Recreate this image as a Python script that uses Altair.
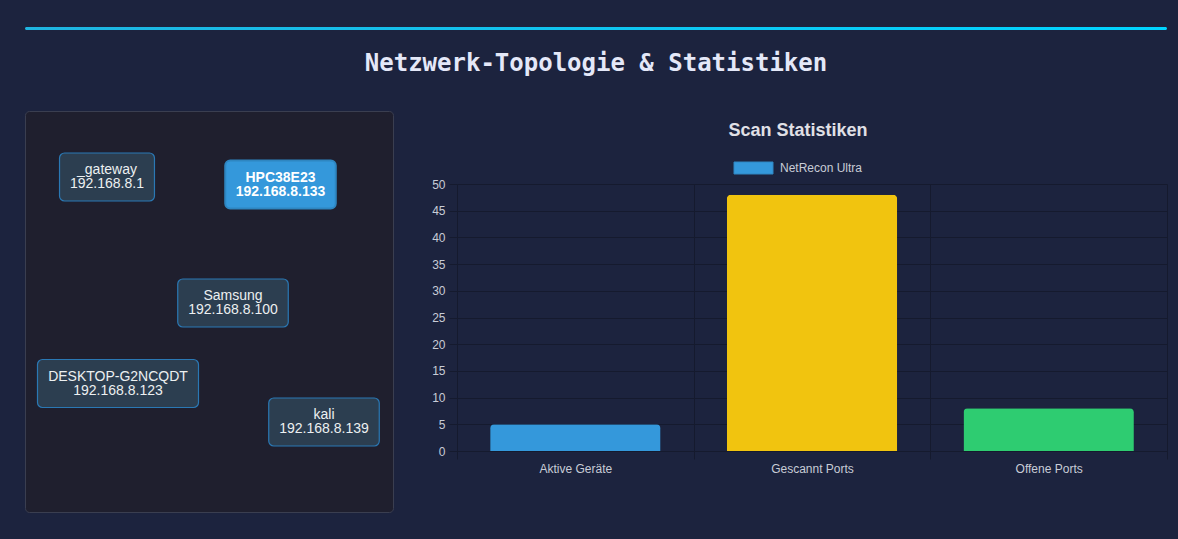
import altair as alt
import pandas as pd

# ---------------- data ----------------
categories = ["Aktive Geräte", "Gescannt Ports", "Offene Ports"]
counts = [5, 48, 8]
bar_colors = ["#3498db", "#f1c40f", "#2ecc71"]
y_ticks = [0, 5, 10, 15, 20, 25, 30, 35, 40, 45, 50]

node_names = ["_gateway", "HPC38E23", "Samsung", "DESKTOP-G2NCQDT", "kali"]
node_ips = ["192.168.8.1", "192.168.8.133", "192.168.8.100", "192.168.8.123", "192.168.8.139"]
# layout coordinates of the node centres inside the topology panel
node_x = [82, 255.5, 208, 93, 299]
node_y = [66, 73.5, 192, 272.5, 311]
active_node = "HPC38E23"

page_title = "Netzwerk-Topologie & Statistiken"
chart_title = "Scan Statistiken"
dataset_label = "NetRecon Ultra"

# ---------------- styles ----------------
BG = "#1c233e"
PANEL = "#1f1f2e"
PANEL_STROKE = "#3a3e50"
GRID = "#151a2e"
LABEL = "#c8ccd6"
FONT = "Liberation Sans"

# rough Arial metrics (per 1000 em) to size the node boxes around their text
W = {c: 556 for c in "0123456789_aegnu"}
W.update({".": 278, "-": 333, "t": 278, "w": 722, "y": 500, "k": 500, "l": 222,
          "i": 222, "m": 833, "s": 500, "S": 667, "D": 722, "E": 667, "K": 667,
          "T": 611, "O": 778, "P": 667, "G": 778, "N": 722, "C": 722, "Q": 778,
          "H": 722})


def text_w(s, size=14):
    return sum(W.get(c, 556) for c in s) * size / 1000.0


nodes = pd.DataFrame({"name": node_names, "ip": node_ips, "x": node_x, "y": node_y})
nodes["label"] = nodes["name"] + "\n" + nodes["ip"]
nodes["half"] = [(max(text_w(a), text_w(b)) + 21) / 2 for a, b in zip(node_names, node_ips)]
nodes["x1"] = nodes["x"] - nodes["half"]
nodes["x2"] = nodes["x"] + nodes["half"]
nodes["y1"] = nodes["y"] - 24
nodes["y2"] = nodes["y"] + 24
nodes["active"] = nodes["name"] == active_node

bars_df = pd.DataFrame({"cat": categories, "value": counts})
one = pd.DataFrame({"t": [page_title], "c": [chart_title], "l": [dataset_label]})

# plot area origin is at (457, 184) on the page
OX, OY = 457, 184

# ---------------- bar chart ----------------
bars = alt.Chart(bars_df).mark_bar(
    cornerRadiusTopLeft=4, cornerRadiusTopRight=4, width=alt.RelativeBandSize(0.72)
).encode(
    x=alt.X("cat:N", sort=categories,
            scale=alt.Scale(paddingInner=0, paddingOuter=0),
            axis=alt.Axis(title=None, orient="bottom", labelAngle=0, grid=True,
                          tickBand="extent", gridColor=GRID, domainColor=GRID,
                          gridOpacity=alt.condition("datum.index < 0", alt.value(0), alt.value(1)),
                          tickColor=GRID, tickSize=8, labelPadding=4,
                          labelColor=LABEL, labelFont=FONT, labelFontSize=12)),
    y=alt.Y("value:Q", scale=alt.Scale(domain=[0, 50], nice=False),
            axis=alt.Axis(title=None, orient="left", values=y_ticks, grid=True,
                          gridColor=GRID, domainColor=GRID, tickColor=GRID,
                          tickSize=8, labelPadding=4, labelColor=LABEL,
                          labelFont=FONT, labelFontSize=12)),
    color=alt.Color("cat:N", scale=alt.Scale(domain=categories, range=bar_colors), legend=None),
)

bars_title = alt.Chart(one).mark_text(font=FONT, fontSize=18, fontWeight="bold",
                                      color="#e0e0e6", align="center", baseline="middle").encode(
    x=alt.value(798 - OX), y=alt.value(131 - OY), text="c:N")

legend_box = alt.Chart(one).mark_rect(fill="#3498db", stroke="#2e86c1", strokeWidth=1).encode(
    x=alt.value(734 - OX), x2=alt.value(773 - OX), y=alt.value(162 - OY), y2=alt.value(174 - OY))

legend_text = alt.Chart(one).mark_text(font=FONT, fontSize=12, color=LABEL,
                                       align="left", baseline="middle").encode(
    x=alt.value(780 - OX), y=alt.value(168 - OY), text="l:N")

# ---------------- header ----------------
header_line = alt.Chart(one).mark_rect(
    cornerRadius=1.5,
    fill=alt.Gradient(gradient="linear", x1=0, x2=1, y1=0, y2=0,
                      stops=[alt.GradientStop(color="#1fb4e0", offset=0),
                             alt.GradientStop(color="#00d4ff", offset=1)])).encode(
    x=alt.value(25 - OX), x2=alt.value(1167 - OX), y=alt.value(27 - OY), y2=alt.value(30 - OY))

header_title = alt.Chart(one).mark_text(font="DejaVu Sans Mono", fontSize=24, fontWeight="bold",
                                        color="#e4e8f8", align="center", baseline="middle").encode(
    x=alt.value(596 - OX), y=alt.value(64 - OY), text="t:N")

# ---------------- topology panel ----------------
panel = alt.Chart(one).mark_rect(fill=PANEL, stroke=PANEL_STROKE, strokeWidth=1, cornerRadius=4).encode(
    x=alt.value(25.5 - OX), x2=alt.value(393.5 - OX), y=alt.value(111.5 - OY), y2=alt.value(512.5 - OY))

xs = alt.Scale(domain=[0, 368], range=[25 - OX, 393 - OX], nice=False, zero=False)
ys = alt.Scale(domain=[0, 401], range=[111 - OY, 512 - OY], nice=False, zero=False)

base = alt.Chart(nodes)
normal = base.transform_filter("!datum.active")
hot = base.transform_filter("datum.active")

boxes = normal.mark_rect(fill="#2c3e50", stroke="#2a78b4", strokeWidth=1.2, cornerRadius=5).encode(
    x=alt.X("x1:Q", scale=xs, axis=None), x2="x2:Q",
    y=alt.Y("y1:Q", scale=ys, axis=None), y2="y2:Q")
hot_box = hot.mark_rect(fill="#3498db", stroke="#2e86c1", strokeWidth=2, cornerRadius=5).encode(
    x=alt.X("x1:Q", scale=xs, axis=None), x2="x2:Q",
    y=alt.Y("y1:Q", scale=ys, axis=None), y2="y2:Q")
labels = normal.mark_text(font=FONT, fontSize=14, color="#ecf0f1", lineBreak="\n",
                          lineHeight=14, dy=-7, align="center", baseline="middle").encode(
    x=alt.X("x:Q", scale=xs, axis=None), y=alt.Y("y:Q", scale=ys, axis=None), text="label:N")
hot_label = hot.mark_text(font=FONT, fontSize=14, fontWeight="bold", color="#ffffff",
                          lineBreak="\n", lineHeight=14, dy=-7, align="center", baseline="middle").encode(
    x=alt.X("x:Q", scale=xs, axis=None), y=alt.Y("y:Q", scale=ys, axis=None), text="label:N")

network = alt.layer(boxes, hot_box, labels, hot_label)

chart = alt.layer(
    bars, header_line, header_title, panel, network, bars_title, legend_box, legend_text
).resolve_scale(x="independent", y="independent").properties(
    width=1167 - OX, height=451 - OY, autosize="none",
    padding={"left": OX, "top": OY, "right": 1178 - 1167, "bottom": 539 - 451},
    background=BG,
).configure_view(stroke=None)

chart.save("out.html", embed_options={"renderer": "svg", "actions": False})
